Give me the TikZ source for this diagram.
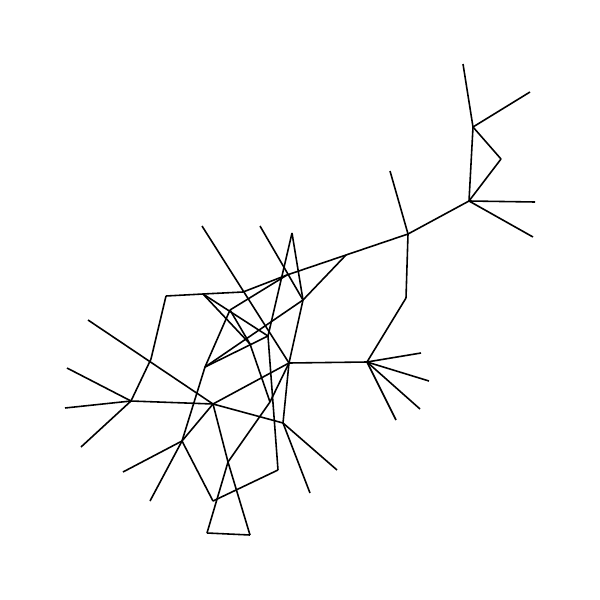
\documentclass[tikz,border=0pt]{standalone}
\usetikzlibrary{calc}

\begin{document}
\begin{tikzpicture}[
    x=0.01cm, y=-0.01cm,
    edge/.style={draw=black, line width=0.45pt},
]

% Frame: same size as the reference
\useasboundingbox (0,0) rectangle (600,600);

% ===== Vertices (pixel positions) =====
% top right group
\coordinate (a1) at (463,64);
\coordinate (a2) at (530,92);
\coordinate (vA) at (473,127);
\coordinate (vB) at (501,159);
\coordinate (vC) at (469,201);
\coordinate (c1) at (535,202);
\coordinate (c2) at (533,237);
\coordinate (vD) at (408,234);
\coordinate (d1) at (390,171);
\coordinate (vF) at (406,298);
\coordinate (vE) at (346,255);
% right star
\coordinate (vG) at (367,362);
\coordinate (g1) at (421,353);
\coordinate (g2) at (429,381);
\coordinate (g3) at (420,409);
\coordinate (g4) at (396,420);
% centre
\coordinate (vH) at (289,363);
\coordinate (vP) at (303,300);
\coordinate (vQ) at (287,275);
\coordinate (vR) at (243,292);
\coordinate (vT) at (203,294);
\coordinate (vS) at (230,310);
\coordinate (vL) at (205,367);
\coordinate (vU) at (268,336);
\coordinate (vW) at (250,344);
\coordinate (vJ) at (270,402);
\coordinate (peak) at (292,233);
\coordinate (top1) at (202,226);
\coordinate (top2) at (260,226);
% left
\coordinate (v3) at (166,296);
\coordinate (v2) at (151,359);
\coordinate (v1) at (131,401);
\coordinate (l1) at (67,368);
\coordinate (l2) at (65,408);
\coordinate (l3) at (81,447);
\coordinate (m1) at (88,320);
\coordinate (vM) at (213,404);
% bottom
\coordinate (vN) at (283,423);
\coordinate (n1) at (337,470);
\coordinate (n2) at (310,493);
\coordinate (vK) at (182,441);
\coordinate (k1) at (150,501);
\coordinate (k2) at (123,472);
\coordinate (vY) at (213,501);
\coordinate (vX) at (278,470);
\coordinate (vI) at (228,462);
\coordinate (z1) at (207,533);
\coordinate (z2) at (250,535);

% ===== Edges =====
\foreach \s/\t in {vA/a1, vA/a2, vA/vB, vB/vC, vA/vC, vC/c1, vC/c2, vC/vD,
    vD/d1, vD/vF, vD/vE, vF/vG, vG/g1, vG/g2, vG/g3, vG/g4, vG/vH,
    vE/vQ, vE/vP, vQ/vR, vR/vT, vT/v3, v3/v2, v2/v1,
    v1/l1, v1/l2, v1/l3, v1/vM, m1/vM, top1/vH, top2/vP, peak/vP, peak/vU,
    vQ/vS, vS/vL, vS/vW, vT/vW, vW/vJ, vL/vK, vL/vP, vL/vU, vT/vU,
    vU/vX, vP/vH, vH/vN, vH/vM, vN/vM, vN/n1, vN/n2,
    vM/vK, vK/k1, vK/k2, vK/vY, vY/vX,
    vH/vJ, vJ/vI, vM/vI, vI/z1, vI/z2, z1/z2} {
    \draw[edge] (\s) -- (\t);
}

\end{tikzpicture}
\end{document}
